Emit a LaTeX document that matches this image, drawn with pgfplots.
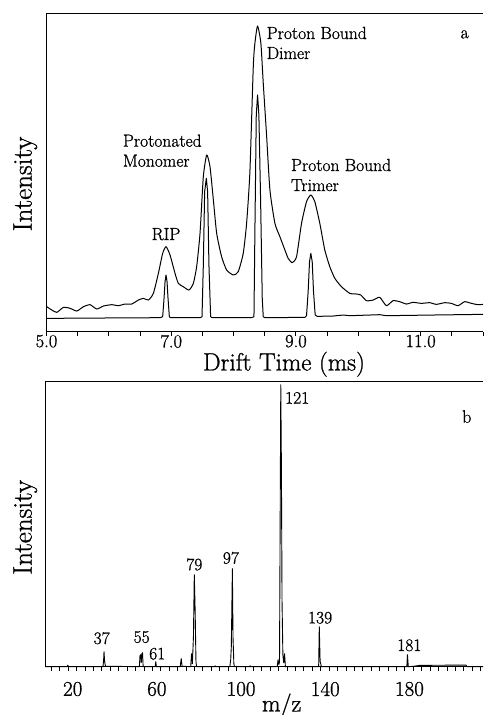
\documentclass[border=0pt]{standalone}
\usepackage{fontspec}
\setmainfont{Latin Modern Roman}[FakeBold=1]
\usepackage{pgfplots}
\pgfplotsset{compat=1.18}
\begin{document}
\begin{tikzpicture}[x=1pt,y=1pt]
% ---------------- panel a ----------------
\begin{axis}[
  at={(46.5pt,383.3pt)}, anchor=south west,
  scale only axis, width=436.5pt, height=318.4pt,
  xmin=5, xmax=12, ymin=0, ymax=955,
  separate axis lines,
  axis x line*=box, axis y line*=left,
  axis line style={line width=1pt, black},
  xtick={5,7,9,11}, xticklabels={5.0,7.0,9.0,11.0},
  minor xtick={5.5,6,6.5,7.5,8,8.5,9.5,10,10.5,11.5,12},
  ytick=\empty,
  xtick pos=left, tick align=outside,
  major tick length=4.5pt, minor tick length=4.5pt,
  every tick/.style={black, line width=0.9pt},
  xticklabel style={font=\fontsize{18.5}{21}\selectfont, inner sep=0pt, yshift=1.5pt},
  xlabel={Drift Time (ms)},
  xlabel style={at={(axis description cs:0.544,0)}, anchor=base, yshift=-38.8pt, inner sep=0pt, font=\fontsize{25}{28}\selectfont},
  ylabel={Intensity},
  ylabel style={at={(axis description cs:-0.0339,0.464)}, anchor=base, inner sep=0pt, font=\fontsize{27}{30}\selectfont},
  clip=false,
]
\addplot[black, line width=1pt, line join=round, smooth, tension=0.35] coordinates {
(5.000,77) (5.005,75) (5.085,65) (5.166,58) (5.272,73) (5.379,70) (5.486,62) (5.593,75) (5.699,81) (5.806,68) (5.913,77) (6.046,81) (6.153,78) (6.260,83) (6.367,83) (6.474,95) (6.554,100) (6.634,95) (6.714,115) (6.794,175) (6.863,235) (6.917,255) (6.981,230) (7.061,175) (7.114,145) (7.194,135) (7.285,125) (7.355,145) (7.408,195) (7.462,295) (7.515,465) (7.569,530) (7.622,495) (7.676,395) (7.729,295) (7.808,225) (7.889,185) (7.996,170) (8.075,180) (8.155,235) (8.209,325) (8.262,480) (8.316,795) (8.342,865) (8.385,917) (8.438,865) (8.476,745) (8.529,590) (8.583,425) (8.663,325) (8.743,285) (8.823,245) (8.876,220) (8.940,207) (9.010,225) (9.090,325) (9.170,390) (9.239,410) (9.303,390) (9.383,325) (9.463,245) (9.543,195) (9.624,160) (9.730,135) (9.864,115) (9.971,113) (10.040,110) (10.131,93) (10.238,95) (10.344,103) (10.451,78) (10.558,93) (10.665,90) (10.771,83) (10.878,88) (11.012,85) (11.145,87) (11.252,82) (11.386,87) (11.492,85) (11.599,78) (11.706,90) (11.813,85) (11.919,81) (12.0,82)
};
\addplot[black, line width=1pt, line join=round] coordinates {
(5.0,40) (5.86,41) (6.821,42) (6.863,45) (6.885,100) (6.901,150) (6.917,170) (6.933,150) (6.949,100) (6.970,45) (6.991,42) (7.462,42) (7.494,45) (7.515,200) (7.536,420) (7.563,460) (7.584,420) (7.605,200) (7.632,45) (7.654,42) (8.289,42) (8.327,45) (8.342,300) (8.364,650) (8.385,710) (8.406,650) (8.433,400) (8.460,100) (8.476,45) (8.502,42) (9.143,43) (9.170,48) (9.196,120) (9.218,210) (9.239,235) (9.261,210) (9.282,120) (9.309,50) (9.341,46) (9.597,47) (9.757,50) (9.864,48) (10.344,51) (10.451,48) (11.199,50) (12.0,52)
};
\begin{scope}[every node/.style={font=\fontsize{17.5}{20}\selectfont, inner sep=0pt, align=left}]
\node[anchor=north west] at (axis cs:8.529,915) {Proton Bound\\Dimer};
\node[anchor=north west] at (axis cs:6.223,592) {Protonated\\Monomer};
\node[anchor=north west] at (axis cs:8.919,519) {Proton Bound\\Trimer};
\node[anchor=base] at (axis cs:6.917,275) {RIP};
\end{scope}
\node[anchor=base, inner sep=0pt, font=\fontsize{18}{20}\selectfont] at (axis cs:11.706,880) {a};
\end{axis}
% ---------------- panel b ----------------
\begin{axis}[
  at={(45.3pt,48.3pt)}, anchor=south west,
  scale only axis, width=437.7pt, height=285pt,
  xmin=9.1, xmax=217.1, ymin=0, ymax=285,
  separate axis lines,
  axis x line*=box, axis y line*=left,
  axis line style={line width=1pt, black},
  xtick={20,60,100,140,180},
  minor xtick={12,16,...,216},
  ytick=\empty,
  xtick pos=left, tick align=outside,
  major tick length=4.5pt, minor tick length=4.5pt,
  every tick/.style={black, line width=0.9pt},
  xticklabel style={font=\fontsize{21}{24}\selectfont, inner sep=0pt, yshift=-10.5pt, xshift=4.5pt},
  xticklabels={20,60,100,140,180},
  xlabel={m/z},
  xlabel style={at={(axis description cs:0.540,0)}, anchor=base, yshift=-44.8pt, inner sep=0pt, font=\fontsize{24}{27}\selectfont},
  ylabel={Intensity},
  ylabel style={at={(axis description cs:-0.0311,0.489)}, anchor=base, inner sep=0pt, font=\fontsize{27}{30}\selectfont},
  clip=false,
]
\addplot[black, line width=0.9pt, line join=round] coordinates {
(9.1,0) (19.5,0) (19.8,1.5) (20.1,0) (36.5,0) (36.8,6) (37.0,15) (37.3,5) (37.7,0.5) (53.8,0) (54.1,11) (54.4,12) (54.7,4) (55.0,13) (55.3,14) (55.6,0) (61.3,0) (61.6,5) (61.9,0) (73.2,0) (73.5,5) (73.7,8) (74.1,0.5) (78.2,0) (78.6,13) (79.0,3) (79.5,30) (79.9,92) (80.3,57) (80.7,5) (81.0,0) (89.6,0) (89.8,1) (90.0,0) (96.8,0) (97.2,7) (97.5,20) (98.0,98) (98.3,30) (98.7,3) (99.0,0) (106.2,0) (106.4,1) (106.6,0) (119.3,0) (119.7,7) (120.1,2) (120.4,5) (121.0,282) (121.3,200) (121.6,65) (122.0,12) (122.4,4) (122.8,13) (123.2,0) (139.0,0) (139.3,40) (139.7,5) (140.0,3) (140.3,0) (180.9,0) (181.2,12) (181.6,0) (184.0,0.4) (187.0,1.3) (205.0,1.6) (209.0,1.6) (209.6,0) (217.1,0)
};
\begin{scope}[every node/.style={font=\fontsize{17.5}{20}\selectfont, inner sep=0pt}]
\node[anchor=base west] at (axis cs:123.0,263) {121};
\node[anchor=base] at (axis cs:79.9,96.5) {79};
\node[anchor=base] at (axis cs:97.3,103) {97};
\node[anchor=base] at (axis cs:35.9,22.7) {37};
\node[anchor=base] at (axis cs:54.9,24) {55};
\node[anchor=base] at (axis cs:62.3,7.3) {61};
\node[anchor=base] at (axis cs:139.7,43.3) {139};
\node[anchor=base] at (axis cs:182.1,15.7) {181};
\end{scope}
\node[anchor=base, inner sep=0pt, font=\fontsize{18}{20}\selectfont] at (axis cs:209.4,244) {b};
\end{axis}
\pgfresetboundingbox
\useasboundingbox (0,0) rectangle (483,715);
\end{tikzpicture}
\end{document}
